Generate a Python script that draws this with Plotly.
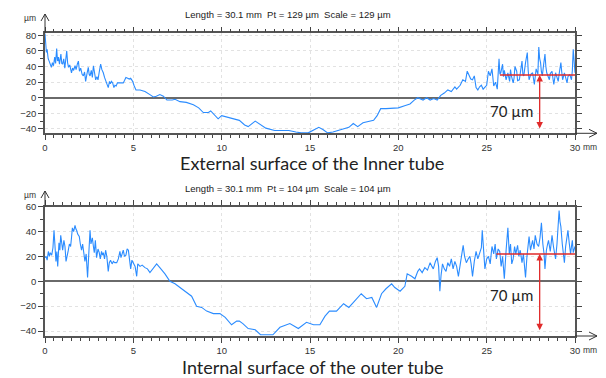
import plotly.graph_objects as go

W, H = 606, 378

# ---------------- data ----------------
inner_x = [0, 0.04, 0.08, 0.12, 0.18, 0.25, 0.3, 0.36, 0.42, 0.48, 0.55, 0.6, 0.66, 0.71, 0.76, 0.82, 0.9, 0.95,
           1.0, 1.06, 1.12, 1.18, 1.23, 1.28, 1.33, 1.4, 1.5, 1.56, 1.62, 1.7, 1.76, 1.83, 1.89, 1.95,
           2.02, 2.1, 2.17, 2.24, 2.3, 2.37, 2.45, 2.5, 2.55, 2.62, 2.68, 2.74, 2.8, 2.87, 2.94,
           3.0, 3.07, 3.15, 3.22, 3.3, 3.37, 3.45, 3.52, 3.58, 3.65, 3.7, 3.76, 3.83, 3.9, 3.96,
           4.03, 4.1, 4.25, 4.43, 4.5, 4.58, 4.68, 4.77, 4.85, 4.96, 5.05, 5.15, 5.38, 5.66, 5.94,
           6.13, 6.3, 6.5, 6.7, 6.9, 7.2, 7.36, 7.64, 8.0, 8.4, 8.7, 8.96, 9.25, 9.38, 9.6, 9.8,
           10.0, 10.3, 10.66, 11.0, 11.3, 11.5, 11.9, 12.2, 12.5, 13.0, 13.4, 13.8, 14.2, 14.5, 14.9,
           15.2, 15.5, 15.75, 16.0, 16.3, 16.6, 16.9, 17.2, 17.45, 17.7, 18.0, 18.3, 18.6, 18.8, 19.0,
           19.3, 19.7, 20.0, 20.4, 20.66, 20.9, 21.1, 21.4, 21.6, 21.8, 22.0, 22.2, 22.4, 22.6, 22.8,
           23.0, 23.2, 23.3, 23.5, 23.65, 23.8, 23.9, 24.0, 24.1, 24.2, 24.3, 24.4, 24.5, 24.6, 24.7,
           24.8, 24.9, 25.0, 25.1, 25.2, 25.3, 25.4, 25.5, 25.6, 25.7, 25.75, 25.8, 25.9, 25.95, 26.0,
           26.1, 26.15, 26.2, 26.3, 26.35, 26.4, 26.5, 26.55, 26.6, 26.7, 26.75, 26.85, 26.9, 27.0,
           27.05, 27.1, 27.2, 27.3, 27.35, 27.4, 27.5, 27.6, 27.7, 27.75, 27.8, 27.9, 27.95, 28.0,
           28.05, 28.1, 28.15, 28.2, 28.3, 28.35, 28.4, 28.5, 28.55, 28.6, 28.7, 28.75, 28.8, 28.9,
           28.95, 29.05, 29.1, 29.2, 29.25, 29.3, 29.4, 29.45, 29.55, 29.6, 29.7, 29.8, 29.85, 29.9,
           29.95, 30.0]
inner_y = [82, 70, 58, 62, 50, 46, 42, 39, 45, 41, 52, 44, 63, 47, 52, 43, 56, 44,
           43, 50, 38, 48, 60, 45, 39, 42, 32, 38, 35, 41, 36, 43, 47, 34,
           38, 30, 28, 33, 21, 30, 39, 30, 28, 35, 26, 41, 30, 23, 27,
           23, 33, 43, 36, 32, 26, 21, 17, 13, 21, 18, 21, 19, 13, 16,
           15, 19, 19, 19, 22, 26, 25, 24, 25, 21, 15, 10, 10, 8, 4,
           1, 2, 4, 2, -3, -3, -2, -5, -6, -9, -13, -19, -19, -17, -22, -27,
           -23, -25, -27, -29, -35, -37, -30, -35, -39, -42, -42, -42, -44, -45, -45,
           -42, -38, -41, -45, -44, -42, -40, -38, -33, -37, -32, -30, -29, -23, -14,
           -14, -13, -13, -10, -8, -3, 0, -3, 0, -3, -1, -3, 3, 6, 10,
           8, 14, 11, 16, 23, 21, 34, 29, 24, 23, 28, 13, 10, 14, 16,
           11, 14, 16, 34, 28, 37, 15, 20, 11, 50, 30, 32, 43, 27, 35,
           23, 30, 32, 21, 36, 28, 19, 25, 40, 34, 22, 23, 33, 47,
           30, 28, 45, 58, 35, 23, 30, 32, 17, 26, 37, 30, 65, 50,
           45, 33, 28, 38, 56, 40, 32, 26, 23, 31, 34, 25, 17, 32,
           27, 21, 30, 45, 33, 23, 32, 26, 19, 27, 30, 23, 35, 62,
           45, 32]

outer_x = [0.0, 0.06, 0.12, 0.19, 0.25, 0.3, 0.38, 0.45, 0.51, 0.56, 0.62, 0.67, 0.72, 0.79, 0.84, 0.89, 0.95,
           1.0, 1.07, 1.13, 1.19, 1.25, 1.32, 1.38, 1.45, 1.5, 1.55, 1.62, 1.7, 1.75, 1.79, 1.85, 1.94,
           2.0, 2.07, 2.13, 2.2, 2.26, 2.33, 2.41, 2.47, 2.55, 2.6, 2.68, 2.74, 2.79, 2.85, 2.92,
           3.0, 3.07, 3.13, 3.2, 3.25, 3.3, 3.37, 3.43, 3.5, 3.58, 3.64, 3.71, 3.8, 3.87, 3.95,
           4.06, 4.15, 4.24, 4.3, 4.37, 4.43, 4.5, 4.58, 4.65, 4.72, 4.78, 4.85, 4.92,
           5.0, 5.1, 5.19, 5.25, 5.38, 5.5, 5.66, 5.8, 5.94, 6.13, 6.32, 6.5, 6.79, 7.07, 7.36, 7.64,
           8.0, 8.3, 8.58, 8.87, 9.15, 9.53, 9.9, 10.2, 10.56, 10.85, 11.0, 11.2, 11.5, 11.9, 12.2,
           12.6, 12.9, 13.3, 13.86, 14.34, 14.8, 15.2, 15.56, 15.85, 16.1, 16.5, 16.9, 17.2, 17.54,
           17.9, 18.2, 18.5, 18.77, 19.05, 19.3, 19.62, 19.8, 20.1, 20.37, 20.5, 20.75, 20.94,
           21.1, 21.2, 21.35, 21.5, 21.65, 21.8, 21.9, 21.98, 22.1, 22.2, 22.28, 22.35, 22.42, 22.5,
           22.6, 22.7, 22.8, 22.9, 23.0, 23.1, 23.2, 23.3, 23.4, 23.5, 23.6, 23.67, 23.75, 23.85,
           23.95, 24.05, 24.12, 24.2, 24.3, 24.4, 24.5, 24.6, 24.7, 24.75, 24.82, 24.9, 25.0, 25.1,
           25.2, 25.3, 25.4, 25.48, 25.55, 25.65, 25.74, 25.82, 25.9, 26.0, 26.1, 26.2, 26.28, 26.35,
           26.42, 26.5, 26.58, 26.65, 26.75, 26.82, 26.9, 27.0, 27.08, 27.2, 27.28, 27.4, 27.48,
           27.55, 27.6, 27.68, 27.75, 27.85, 27.94, 28.02, 28.1, 28.18, 28.25, 28.3, 28.38, 28.45,
           28.5, 28.6, 28.7, 28.78, 28.85, 28.9, 28.98, 29.05, 29.1, 29.15, 29.2, 29.28, 29.35, 29.4,
           29.47, 29.55, 29.6, 29.68, 29.75, 29.8, 29.85, 29.9, 30.0]
outer_y = [19, 20, 17, 24, 20, 23, 21, 27, 41, 30, 16, 24, 12, 31, 25, 37, 30,
           25, 33, 28, 16, 22, 25, 30, 28, 35, 43, 40, 45, 42, 41, 38, 36,
           30, 25, 30, 20, 16, 22, 3, 20, 41, 30, 35, 28, 23, 33, 19,
           26, 23, 18, 24, 21, 23, 18, 25, 20, 8, 15, 17, 14, 16, 15,
           15, 18, 24, 19, 23, 25, 20, 21, 26, 25, 18, 10, 17,
           15, 12, 4, 14, 12, 13, 11, 10, 7, 11, 14, 11, 6, 0, -2, -5,
           -9, -12, -20, -21, -24, -26, -26, -29, -35, -32, -32, -34, -38, -39, -43,
           -43, -43, -37, -34, -38, -33, -35, -35, -28, -24, -24, -18, -21, -16,
           -10, -14, -13, -21, -10, -6, -2, -5, -8, -4, 6, 4, 2,
           8, 10, 7, 11, 9, 15, 12, 10, 16, 19, 12, -8, 5, 14,
           10, 8, 15, 12, 18, 10, 16, 12, 4, 15, 22, 29, 20, 15,
           18, 20, 14, 4, 16, 24, 18, 22, 27, 41, 25, 10, 18, 20,
           14, 28, 22, 30, 18, 26, 24, 12, 20, 2, 25, 43, 22, 30,
           14, 18, 28, 22, 29, 20, 25, 15, 22, 3, 20, 36, 25,
           30, 33, 26, 37, 30, 28, 35, 47, 30, 22, 10, 25, 30,
           33, 24, 37, 28, 22, 18, 30, 45, 57, 48, 44, 30, 22, 15,
           28, 35, 41, 30, 22, 28, 33, 23, 28]

x_tick_vals = [0, 5, 10, 15, 20, 25, 30]
inner_tick_vals = [-40, -20, 0, 20, 40, 60, 80]
outer_tick_vals = [-40, -20, 0, 20, 40, 60]
inner_range = [-45.6, 82.6]
outer_range = [-44, 60]

inner_ref_level = 29
inner_ref_start = 25.75
inner_arrow_low = -41.5
outer_ref_level = 22
outer_ref_start = 25.55
outer_arrow_low = -40.5
arrow_x = 28
step_label = "70 µm"

headers = ["Length = 30.1 mm\u00a0 Pt = 129 µm\u00a0 Scale = 129 µm",
           "Length = 30.1 mm\u00a0 Pt = 104 µm\u00a0 Scale = 104 µm"]
captions = ["External surface of the Inner tube", "Internal surface of the outer tube"]


# ---------------- layout helpers ----------------
def fx(p):
    return p / W


def fy(p):
    return 1 - p / H


BLUE = "#2b8cff"
RED = "#e02a2a"
AX = "#555555"
TICKFONT = dict(family="Liberation Sans, Arial", size=9.5, color="#333333")

x_common = dict(range=[0, 30], tickvals=x_tick_vals, showline=True, linecolor=AX, linewidth=1.5,
                mirror="allticks", ticks="outside", ticklen=5, tickcolor="#444", tickwidth=1,
                showgrid=True, gridcolor="#e2e2e2", griddash="dot", gridwidth=1, zeroline=False,
                tickfont=TICKFONT, fixedrange=True, automargin=False,
                minor=dict(dtick=0.5, ticks="outside", ticklen=3, tickcolor="#444", showgrid=False))
y_common = dict(showline=True, linecolor=AX, linewidth=1.5, mirror="allticks", ticks="outside",
                ticklen=5, tickcolor="#444", tickwidth=1, showgrid=True, gridcolor="#e2e2e2",
                griddash="dot", gridwidth=1, zeroline=True, zerolinecolor="#6a6a6a", zerolinewidth=2.2,
                tickfont=TICKFONT, fixedrange=True, automargin=False,
                minor=dict(dtick=10, ticks="outside", ticklen=3, tickcolor="#444", showgrid=False))

fig = go.Figure()
fig.add_trace(go.Scatter(x=inner_x, y=inner_y, mode="lines", line=dict(color=BLUE, width=1.1),
                         xaxis="x", yaxis="y", showlegend=False, hoverinfo="skip"))
fig.add_trace(go.Scatter(x=outer_x, y=outer_y, mode="lines", line=dict(color=BLUE, width=1.1),
                         xaxis="x2", yaxis="y2", showlegend=False, hoverinfo="skip"))

top_box = (45, 575, 33.3, 133.3)
bot_box = (45, 575, 206.7, 336.0)

fig.update_layout(
    width=W, height=H, margin=dict(l=0, r=0, t=0, b=0, autoexpand=False),
    paper_bgcolor="white", plot_bgcolor="white", showlegend=False,
    xaxis=dict(domain=[fx(top_box[0]), fx(top_box[1])], anchor="y", **x_common),
    yaxis=dict(domain=[fy(top_box[3]), fy(top_box[2])], anchor="x", range=inner_range,
               tickvals=inner_tick_vals, **y_common),
    xaxis2=dict(domain=[fx(bot_box[0]), fx(bot_box[1])], anchor="y2", **x_common),
    yaxis2=dict(domain=[fy(bot_box[3]), fy(bot_box[2])], anchor="x2", range=outer_range,
                tickvals=outer_tick_vals, **y_common),
)

shapes = []
annotations = []


def axis_arrows(box, ytip):
    l, r, t, b = box
    # y axis arrow
    shapes.append(dict(type="line", xref="paper", yref="paper", x0=fx(l), x1=fx(l), y0=fy(t), y1=fy(ytip),
                       line=dict(color="#333", width=1)))
    shapes.append(dict(type="path", xref="paper", yref="paper",
                       path=f"M {fx(l-4)} {fy(ytip+7)} L {fx(l)} {fy(ytip)} L {fx(l+4)} {fy(ytip+7)}",
                       line=dict(color="#333", width=1)))
    # x axis arrow
    xt = r + 22
    shapes.append(dict(type="line", xref="paper", yref="paper", x0=fx(r), x1=fx(xt), y0=fy(b), y1=fy(b),
                       line=dict(color="#333", width=1)))
    shapes.append(dict(type="path", xref="paper", yref="paper",
                       path=f"M {fx(xt-8)} {fy(b-4)} L {fx(xt)} {fy(b)} L {fx(xt-8)} {fy(b+4)}",
                       line=dict(color="#333", width=1)))
    annotations.append(dict(xref="paper", yref="paper", x=fx(30), y=fy(ytip + 4), text="µm",
                            showarrow=False, xanchor="center", yanchor="middle",
                            font=dict(family="Liberation Sans, Arial", size=8.5, color="#333")))
    annotations.append(dict(xref="paper", yref="paper", x=fx(r + 6), y=fy(b + 14), text="mm",
                            showarrow=False, xanchor="left", yanchor="middle",
                            font=dict(family="Liberation Sans, Arial", size=8.5, color="#333")))


axis_arrows(top_box, 14)
axis_arrows(bot_box, 191)

# headers and captions
for txt, ypix in zip(headers, [15, 188]):
    annotations.append(dict(xref="paper", yref="paper", x=fx(288), y=fy(ypix), text=txt, showarrow=False,
                            xanchor="center", yanchor="middle",
                            font=dict(family="Liberation Sans, Arial", size=9.5, color="#222")))
for txt, ypix in zip(captions, [163, 367]):
    annotations.append(dict(xref="paper", yref="paper", x=fx(312), y=fy(ypix), text=txt, showarrow=False,
                            xanchor="center", yanchor="middle",
                            font=dict(family="Lato, Open Sans", size=18, color="#222")))

# red reference lines and arrows
for xa, ya, lvl, start, low, lab_y in [("x", "y", inner_ref_level, inner_ref_start, inner_arrow_low, -17),
                                        ("x2", "y2", outer_ref_level, outer_ref_start, outer_arrow_low, -11)]:
    shapes.append(dict(type="line", xref=xa, yref=ya, x0=start, x1=30, y0=lvl, y1=lvl,
                       line=dict(color=RED, width=1.5)))
    annotations.append(dict(xref=xa, yref=ya, axref=xa, ayref=ya, x=arrow_x, y=lvl, ax=arrow_x, ay=low,
                            text="", showarrow=True, arrowhead=2, startarrowhead=2, arrowside="end+start",
                            arrowsize=1, arrowwidth=1.3, arrowcolor=RED, standoff=0, startstandoff=0))
    annotations.append(dict(xref=xa, yref=ya, x=26.4, y=lab_y, text=step_label, showarrow=False,
                            xanchor="center", yanchor="middle",
                            font=dict(family="Lato, Open Sans", size=15, color="#222")))

fig.update_layout(shapes=shapes, annotations=annotations)
fig.write_html("out.html", config={"displayModeBar": False},
               post_script="document.body.style.margin='0';document.body.style.padding='0';")
